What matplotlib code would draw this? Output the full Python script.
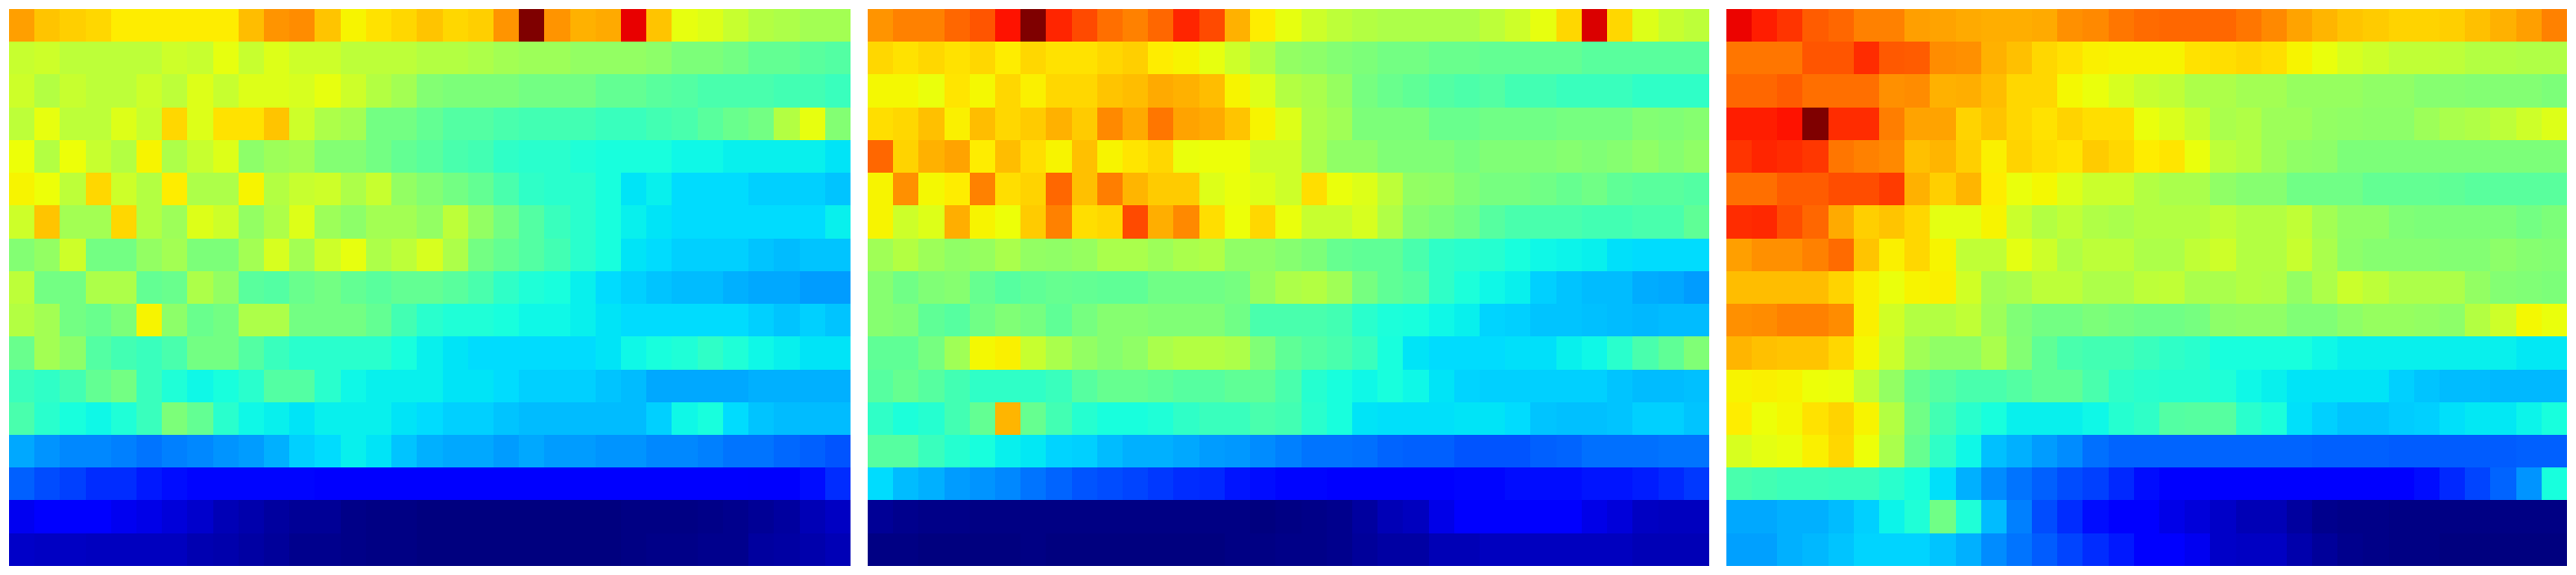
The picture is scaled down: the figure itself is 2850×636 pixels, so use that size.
# -*- coding: UTF-8 -*-
"""Three jet heatmaps side by side, values in percent of the colour range."""

import matplotlib
matplotlib.use("Agg")
import matplotlib.pyplot as plt
import numpy as np

LEFT_MAP = [
    [74,70,69,68,66,66,66,66,66,71,75,76,70,65,67,68,70,68,69,75,100,75,72,73,91,70,63,62,59,57,56,55,55],
    [59,60,58,58,58,58,60,59,63,59,62,60,60,58,58,58,57,57,56,55,54,54,53,53,53,52,50,50,49,47,47,46,45],
    [60,57,59,58,58,60,58,62,59,62,62,61,63,60,57,55,51,50,50,50,49,49,49,47,47,46,45,44,44,44,43,43,42],
    [58,63,58,58,62,59,68,62,67,67,70,60,56,55,49,49,47,45,45,44,43,43,43,42,42,43,44,46,48,49,57,63,51],
    [64,57,64,59,57,65,56,59,62,52,54,55,51,51,49,47,46,44,43,41,40,40,39,38,38,38,37,37,36,36,36,36,35],
    [65,64,58,68,60,57,66,56,56,65,57,59,60,56,59,53,51,49,47,44,41,40,40,38,35,36,34,34,34,33,33,33,32],
    [60,70,55,55,68,57,54,62,60,53,56,62,54,52,55,55,53,58,53,49,45,42,40,38,36,35,34,34,34,34,34,34,36],
    [51,53,60,49,49,53,55,50,50,55,61,55,60,63,56,58,61,56,49,47,45,43,40,38,35,34,33,33,33,32,31,32,32],
    [58,49,49,56,56,47,48,56,53,46,45,48,49,47,46,47,47,46,44,41,39,38,36,34,33,32,31,31,30,29,29,28,28],
    [57,55,49,48,50,65,52,48,49,56,56,49,49,49,47,43,40,39,39,38,37,37,36,35,34,34,34,34,34,33,32,33,32],
    [48,55,52,45,43,42,44,49,49,45,42,40,40,40,40,38,36,35,34,34,34,34,34,35,37,38,39,41,39,37,36,35,35],
    [42,41,43,47,49,42,39,37,38,40,45,45,40,37,36,36,36,35,35,34,33,33,33,32,31,29,29,29,29,30,30,30,30],
    [44,40,38,37,39,42,50,47,40,37,36,35,36,36,36,35,34,33,33,32,31,31,31,31,31,33,37,38,34,32,31,31,31],
    [29,27,26,26,25,24,25,26,27,28,30,33,34,36,35,32,30,29,29,28,29,28,28,27,27,26,26,25,24,24,23,22,21],
    [22,20,19,17,17,15,14,13,13,13,13,13,12,12,12,12,12,12,12,12,12,12,12,12,12,12,12,12,12,11,11,14,17],
    [10,12,12,12,10,9,8,7,5,4,3,2,2,1,.5,.5,0,0,0,0,0,0,0,0,.5,.5,.5,1,1.5,2,3,5,6],
    [6.5,6,6,5.5,5.5,5.5,5.5,4.5,4,3.5,2.5,1.5,1.5,1,.5,.5,0,0,0,0,0,0,0,0,.5,1,1,1.5,1.5,3,3.5,4,5],
]

MIDDLE_MAP = [
    [75,77,77,80,82,89,100,87,83,79,77,80,87,83,72,66,63,60,58,57,56,56,56,56,58,60,63,68,92,68,62,59,58],
    [68,67,68,67,68,66,68,67,67,68,69,66,65,63,60,57,53,52,51,50,49,49,48,48,47,47,47,47,46,46,46,46,46],
    [64.5,64.5,63.5,66.5,64.5,68,65.5,68,68,70,71,73,72,71,65,62,57,55.5,53.5,49.5,48,46.5,45,44.5,45,43,43,42,42,42,41,41,41],
    [67.5,68,70.5,65.5,71,68,69.5,72,69.5,76.5,73,78.5,73.5,73,70,65,62,56,54.5,50,50,50,48,48,48.5,48.5,48.5,49.5,49.5,49.5,51,50.5,51.5],
    [80,68.5,72,73.5,66,71,67.5,65,70.5,65,66.5,68,63.5,64,64,60,60,55.5,52.5,52.5,50.5,50.5,50.5,49.5,50.5,50.5,50.5,51.5,50.5,51.5,52.5,51.5,52.5],
    [65,75.5,64.5,66,77,67.5,68.5,80,70.5,77.5,71.5,69.5,69.5,62,63.5,62,60,67.5,63.5,62,58,53,52.5,50.5,49.5,49.5,48.5,47.5,48.5,46.5,46,46,45],
    [65,60,62,72.5,65,64,69.5,77,67.5,68,83,72.5,76.5,67.5,64,68,63.5,59,59,61,56.5,51.5,50,48.5,45.5,44,44,44,43,43,44,44,46.5],
    [54.5,57,54,52.5,53.5,55.5,53,52.5,53.5,55.5,55.5,54,55.5,56.5,52.5,52.5,51.5,50,47.5,46.5,46.5,44,41,40,39.5,38,37,36.5,36,34.5,34,34,34],
    [51.5,48.5,50.5,51.5,47.5,45.5,46.5,47.5,47,46.5,46.5,48.5,48.5,48.5,49.5,53.5,56,57,54.5,49.5,46.5,45.5,41,38.5,37,36,33,32,31,31,29.5,29,28],
    [51.5,50.5,46.5,45.5,48.5,50.5,49.5,46.5,49.5,51.5,51.5,50.5,50.5,50.5,48.5,44,44,44,43,40,38.5,38,37,36,33.5,33,32,32,31.5,31,30.5,31,31],
    [46.5,46.5,49.5,54.5,64.5,65.5,59,55.5,53,51.5,52.5,55.5,57,57,56,50.5,46.5,45,44,42,38,35,34,34,34,34.5,34.5,36,37,40,44,46.5,50.5],
    [45.5,47.5,45.5,43,41,41,41,42,45.5,47.5,47.5,46.5,45.5,45.5,46.5,46.5,44,39.5,38,37,38,37,35,33.5,33,33,33,33,33,32,31,31,31.5],
    [41,38.5,39.5,43,47,71.5,47.5,43,39.5,38,38,39,41,42,42,44,43,40,38,35,34.5,34.5,34.5,35,35,34,32,31.5,31.5,32,33,33,32],
    [45.5,45.5,42,39.5,38,36,35.5,33.5,33,31,30,30,29,28,27.5,26.5,25,24,24,23.5,22.5,22,22,21,21,21,22,22.5,23.5,23.5,23.5,24,24],
    [34,31,30,28,27,26,24,22.5,21,20,19.5,18,17,16.5,14.5,14,13,13,12,12,12,12,12,13,13,14,14,14,14.5,14.5,15.5,16.5,18],
    [2,1.5,1,1,.5,.5,.5,.5,.5,.5,.5,.5,.5,.5,.5,0,.5,1,1.5,3,5,5.5,9,11.5,11.5,11.5,11.5,11.5,9,8,6,5.5,5.5],
    [.5,.5,0,0,0,0,.5,0,0,0,0,0,0,0,.5,.5,1,1,1.5,2.5,3.5,3.5,5,5,5.5,5.5,5.5,5.5,5.5,5.5,5,5,5],
]

RIGHT_MAP = [
    [90.5,87.5,85.5,81,80,77,77,74,73.5,73,72.5,72.5,73,75.5,76.5,78.5,79.5,80,80,80,78.5,76.5,73.5,71.5,70,69.5,68.5,68.5,69,70.5,72,74,77],
    [78.5,78.5,78.5,82,82,86,81.5,81,76,75.5,72,70.5,68,67,65.5,65,65,65,67,67.5,68,67.5,65,63.5,61,60,58.5,58.5,58,57,57,56.5,56.5],
    [80,80,81,79,79,79,75.5,76,72,72.5,71,68,68,64.5,63.5,61,59,58.5,56,56,55,55,53.5,53.5,53.5,52.5,52.5,51.5,51.5,51,51,51,50],
    [87.5,87.5,89,100,86,86,77.5,73.5,73.5,68.5,70,68,67,68.5,67.5,67.5,63.5,61.5,59,55.5,56.5,54,54,53,52.5,52,52,54,55.5,56.5,58,60,62],
    [85.5,87,86,85,78.5,77,76.5,70.5,71.5,69,65.5,68.5,67.5,66.5,69.5,68,66,66.5,63.5,58,57,54,52.5,52,50,50,50,50,50,50,50,50,50],
    [79,79,81,81,82.5,82.5,84.5,72,69,71.5,66,63.5,64.5,62,59.5,59.5,57,55.5,55.5,52.5,51.5,51.5,48.5,48.5,48.5,47,47,47,46.5,46,46,46,46],
    [86,86.5,82.5,80,73,69,70,68,62.5,62.5,65,59.5,57,58.5,56.5,55.5,57,57,57,58.5,57,57,58.5,55,52.5,52.5,50.5,50,50,50,50,49,50],
    [74,75.5,75.5,77,79.5,70,65.5,68,65,58.5,58.5,62.5,60,56.5,58,58,56,56,58.5,60,57,57,59,55.5,52,51.5,51.5,51.5,51,51,52,51.5,51],
    [71,71,71,71,68.5,65.5,63.5,65,65.5,60.5,55,55.5,58,58,56,56,58,58.5,55.5,55.5,57,56.5,53,56,59.5,58,56,56,56,53,51,50.5,50],
    [75.5,76,77,77,76,65.5,60.5,57,57,58.5,54,50.5,49,49,50,49.5,48.5,48.5,49.5,52,52.5,52.5,50.5,50.5,52,53.5,53.5,53,52,57,60,64.5,63.5],
    [71.5,70.5,70,70,68,64.5,59.5,54.5,52.5,52.5,55.5,51,46.5,44,43,43,42,41,40,38,38,38,38,37,36,36,36,36,36,36,36,35.5,35.5],
    [65,65.5,65,64,63.5,58.5,53,47.5,45.5,44,44,45,46.5,46.5,44,41,40,39.5,39.5,39,37,36,35,35,35,35,33,32,31,31,30.5,30.5,30.5],
    [66,64,64.5,67,68.5,65,57,48.5,43,40,38,36,36,36,37,39.5,41,45,45.5,45.5,40,38.5,34.5,33,32,32,32.5,33,34.5,35.5,35.5,36.5,38],
    [61,62.5,63.5,65.5,68,64,55.5,47.5,41,37,31.5,30,28,26.5,23.5,22.5,22.5,22.5,22.5,22.5,22.5,22.5,22.5,22,22,22,21.5,21.5,21.5,21.5,21.5,22,22],
    [44,43,42.5,42.5,42,42,40,38,34.5,30,26.5,24,22,20,19,16.5,14,12,12,12,12,12,12,12,12,12,12,14,16.5,19.5,22.5,27,38],
    [29,29,30,30,31,33,36.5,39,48.5,39,31,25,20,17,14,12,11.5,9,8,6.5,5,5,3,1.5,1,1,.5,.5,.5,.5,.5,.5,.5],
    [28.5,28.5,30,30.5,32,33.5,33.5,33.5,32,30,26.5,24,21.5,19.5,17,15,12,11.5,10,6.5,6,6,4,2.5,1.5,1,.5,.5,0,0,0,0,0],
]

WIDTH, HEIGHT = 2850, 636
PANEL_LEFTS = [10, 960, 1910]
PANEL_WIDTH = 930


def draw_panel(fig, left, values):
    """Draw one heatmap, given its left edge in pixels."""
    ax = fig.add_axes([left / WIDTH, 10 / HEIGHT, PANEL_WIDTH / WIDTH, 616 / HEIGHT])
    ax.imshow(np.array(values), cmap="jet", vmin=0, vmax=100, aspect="auto",
              interpolation="nearest")
    ax.axis("off")


fig = plt.figure(figsize=(WIDTH / 100, HEIGHT / 100), dpi=100)
for panel_left, panel_values in zip(PANEL_LEFTS, [LEFT_MAP, MIDDLE_MAP, RIGHT_MAP]):
    draw_panel(fig, panel_left, panel_values)
fig.savefig("out.png", dpi=100)
